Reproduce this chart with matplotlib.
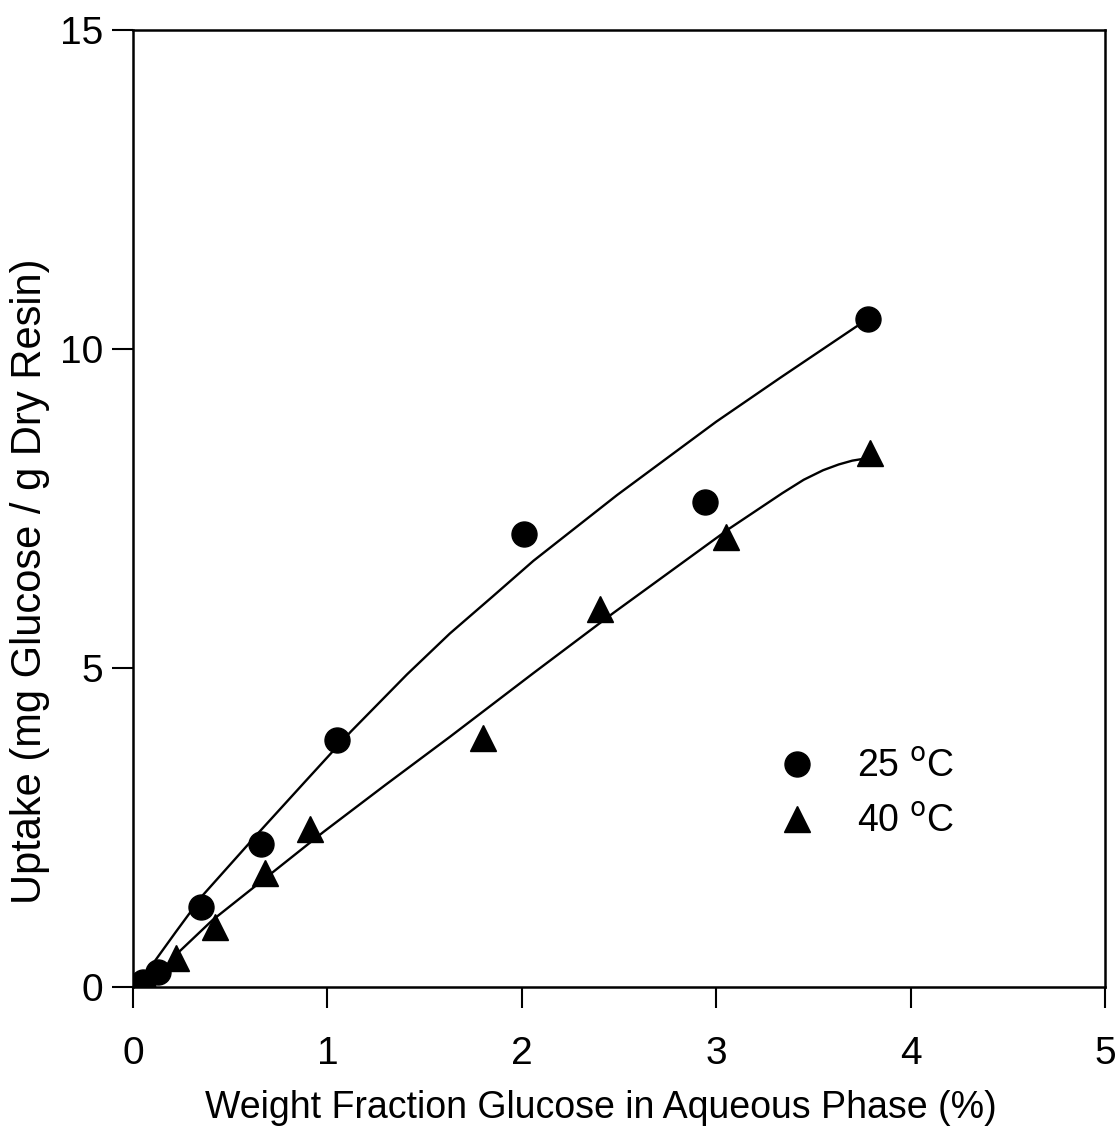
import matplotlib.pyplot as plt
import numpy as np

plt.rcParams['font.family'] = ['Liberation Sans', 'DejaVu Sans']

# measured points
x_25 = [0.05, 0.13, 0.35, 0.66, 1.05, 2.01, 2.94, 3.78]
y_25 = [0.08, 0.24, 1.25, 2.24, 3.87, 7.10, 7.60, 10.47]
x_40 = [0.08, 0.22, 0.42, 0.68, 0.91, 1.80, 2.40, 3.05, 3.79]
y_40 = [0.03, 0.45, 0.94, 1.79, 2.47, 3.90, 5.93, 7.05, 8.37]

# fitted curves
fit_x_25 = [0.05, 0.09, 0.22, 0.36, 0.65, 0.88, 1.12, 1.41, 1.63, 1.85, 2.06, 2.49, 3.00, 3.33, 3.72, 3.78]
fit_y_25 = [0.02, 0.31, 0.86, 1.44, 2.43, 3.20, 4.00, 4.90, 5.54, 6.12, 6.68, 7.71, 8.86, 9.55, 10.35, 10.45]
fit_x_40 = [0.08, 0.23, 0.41, 0.72, 0.98, 1.30, 1.63, 2.06, 2.47, 3.07, 3.34, 3.45, 3.55, 3.63, 3.70, 3.78]
fit_y_40 = [0.00, 0.53, 1.05, 1.80, 2.43, 3.17, 3.92, 4.92, 5.86, 7.19, 7.74, 7.95, 8.10, 8.19, 8.25, 8.29]

fig = plt.figure(figsize=(11.17, 11.41), dpi=100)
ax = fig.add_axes([0.119, 0.135, 0.8703, 0.8387])

ax.plot(fit_x_25, fit_y_25, color='black', lw=1.7, solid_joinstyle='round')
ax.plot(fit_x_40, fit_y_40, color='black', lw=1.7, solid_joinstyle='round')
ax.plot(x_25, y_25, 'o', color='black', ms=18, label='25 $^{\\rm o}$C')
ax.plot(x_40, y_40, '^', color='black', ms=18.5, label='40 $^{\\rm o}$C')

ax.set_xlim(0, 5)
ax.set_ylim(0, 15)
ax.set_xticks([0, 1, 2, 3, 4, 5])
ax.set_yticks([0, 5, 10, 15])
ax.tick_params(direction='out', length=15, width=1.5, labelsize=28)
ax.tick_params(axis='x', pad=20)
ax.tick_params(axis='y', pad=6.5)
for s in ax.spines.values():
    s.set_linewidth(1.8)

ax.set_xlabel('Weight Fraction Glucose in Aqueous Phase (%)', fontsize=27)
ax.set_ylabel('Uptake (mg Glucose / g Dry Resin)', fontsize=30)
ax.xaxis.set_label_coords(0.481, -0.127)
ax.xaxis.label.set_verticalalignment('center')
ax.yaxis.set_label_coords(-0.106, 0.424)
ax.yaxis.label.set_verticalalignment('center')

ax.legend(loc='upper left', bbox_to_anchor=(0.6446, 0.2487), frameon=False,
          fontsize=27, handlelength=2, handletextpad=0.6, labelspacing=0.52,
          borderpad=0, borderaxespad=0)

fig.savefig('out.png', dpi=100)
